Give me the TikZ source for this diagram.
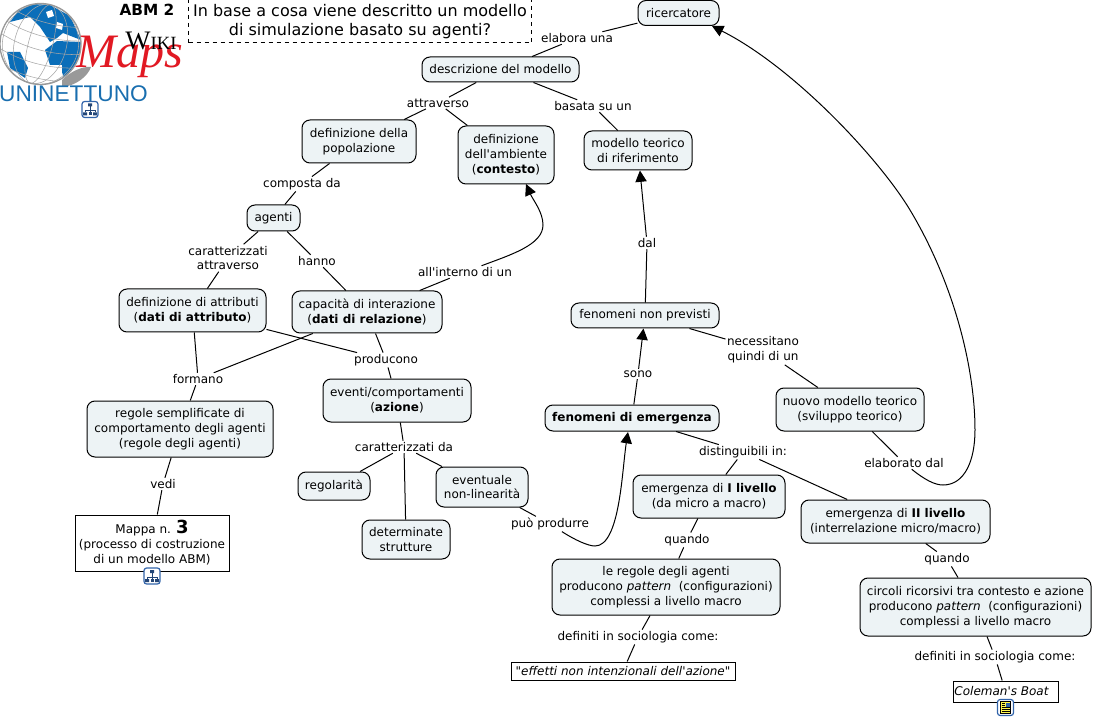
\documentclass[tikz,border=0pt]{standalone}
\usepackage{fontspec}
\setmainfont{DejaVu Sans}[Ligatures=TeXOff]
\newfontfamily\logoserif{Liberation Serif}
\newfontfamily\logosans{Liberation Sans}
\usepackage{tikz}
\usetikzlibrary{arrows.meta, calc}
\definecolor{conceptfill}{RGB}{237, 243, 245}
\definecolor{globeblue}{RGB}{10, 110, 185}
\definecolor{logoblue}{RGB}{25, 110, 175}
\definecolor{mapsred}{RGB}{225, 25, 35}
\definecolor{iconblue}{RGB}{50, 100, 170}

\begin{document}
\begin{tikzpicture}[x=0.75pt, y=-0.75pt,
  every node/.style={font=\fontsize{9}{11.2}\selectfont, align=center, inner sep=0pt},
  size/.style 2 args={minimum width=#1*0.75pt, minimum height=#2*0.75pt},
  concept/.style={draw, fill=conceptfill, rounded corners=6pt, line width=0.75pt},
  resource/.style={draw, fill=white, line width=0.75pt},
  linklabel/.style={fill=white, inner sep=1pt, yshift=-0.75pt},
  link/.style={line width=0.75pt},
  arrowlink/.style={line width=0.75pt, -{Triangle[length=8.5pt, width=8.5pt]}},
  iconbox/.pic={
    \draw[iconblue, fill=white, rounded corners=2pt, line width=0.9pt] (-8,-8) rectangle (8,8);
  },
  treeicon/.pic={
    \pic {iconbox};
    \draw[iconblue!70!black, line width=0.6pt] (0,-3) -- (0,1) (-5,3) -- (-5,1) -- (5,1) -- (5,3) (0,1) -- (0,3);
    \fill[iconblue!70!black] (-2,-6) rectangle (2,-3) (-7,3) rectangle (-3,6) (3,3) rectangle (7,6);
    \fill[iconblue!70!black] (-1.5,3) rectangle (1.5,6);
  },
  noteicon/.pic={
    \pic {iconbox};
    \draw[black, fill=yellow!70, line width=0.5pt] (-5,-6) rectangle (5,6);
    \fill[iconblue] (0,-5) rectangle (4,-1);
    \draw[black, line width=0.5pt] (-4,-4) -- (-1,-4) (-4,-2) -- (-1,-2) (-4,0) -- (4,0) (-4,2) -- (4,2) (-4,4) -- (4,4);
  }]

  \useasboundingbox (0,0) rectangle (1096,720);

  % ---------- Logo ----------
  \fill[black!40] (62,80) .. controls (70,72) and (82,66) .. (91,67)
    .. controls (88,76) and (76,86) .. (62,87) -- cycle;
  \begin{scope}
    \clip (40.5,44) circle (40.5);
    \fill[white] (40.5,44) circle (40.5);
    \fill[globeblue] (10,22) -- (18,11) -- (33,4) -- (50,5) -- (70,16) -- (81,40)
      -- (63,33) -- (57,38) -- (50,42) -- (40,27) -- (30,17) -- cycle;
    \fill[globeblue] (45,50) -- (57,41) -- (81,42) -- (79,60) -- (65,82) -- (62,72)
      -- (62,65) -- (50,65) -- cycle;
    \fill[globeblue] (7,52) -- (20,52) -- (28,68) -- (25,78) -- (10,68) -- cycle;
    \fill[white] (46,12) -- (52,10) -- (54,16) -- (48,18) -- cycle;
    \fill[white] (57,22) -- (63,24) -- (62,30) -- (56,28) -- cycle;
    \foreach \rx in {12, 26, 38}{
      \draw[black!35, line width=0.4pt, rotate around={-15:(40.5,44)}] (40.5,44) ellipse (\rx*0.75pt and 30.4pt);
    }
    \foreach \dy in {-28, -14, 0, 14, 28}{
      \draw[black!35, line width=0.4pt, rotate around={-15:(40.5,44)}] (0,44+\dy) .. controls (25,52+\dy) and (55,52+\dy) .. (81,44+\dy);
    }
  \end{scope}
  \draw[black!40, line width=1pt] (40.5,44) circle (40.5);
  \node[mapsred, font=\logoserif\itshape\fontsize{36}{36}\selectfont] (maps) at (130,57) {Maps};
  \node[font=\logoserif\fontsize{20}{16}\selectfont] (wiki) at (151,41) {W\fontsize{14}{16}\selectfont IKI};
  \node[logoblue, font=\logosans\fontsize{17}{18}\selectfont] (uninettuno) at (73.5,94) {UNINETTUNO};
  \pic at (90,109.5) {treeicon};

  % ---------- Title ----------
  \node[font=\bfseries\fontsize{11.5}{12}\selectfont] (abm) at (147,10) {ABM 2};
  \node[draw, dashed, size={343}{43}, font=\fontsize{12}{14.2}\selectfont, line width=0.75pt] (domanda) at (360,21.5)
    {In base a cosa viene descritto un modello\\di simulazione basato su agenti?};

  % ---------- Concepts ----------
  \node[concept, size={81}{25}] (ricercatore) at (678.5,13) {ricercatore};
  \node[concept, size={157}{25}] (descrizione) at (500.5,69.5) {descrizione del modello};
  \node[concept, size={114}{43}] (popolazione) at (359,141.5) {definizione della\\popolazione};
  \node[concept, size={96}{58}] (contesto) at (506,155) {definizione\\dell'ambiente\\(\textbf{contesto})};
  \node[concept, size={108}{39}] (teorico) at (638,150.5) {modello teorico\\di riferimento};
  \node[concept, size={53}{26}] (agenti) at (273.5,218) {agenti};
  \node[concept, size={147}{43}] (attributi) at (192.5,310.5) {definizione di attributi\\(\textbf{dati di attributo})};
  \node[concept, size={150}{42}] (relazione) at (367,312) {capacità di interazione\\(\textbf{dati di relazione})};
  \node[concept, size={148}{25}] (previsti) at (645,315.5) {fenomeni non previsti};
  \node[concept, size={148}{43}] (eventi) at (397,400.5) {eventi/comportamenti\\(\textbf{azione})};
  \node[concept, size={186}{56}] (regole) at (180,429) {regole semplificate di\\comportamento degli agenti\\(regole degli agenti)};
  \node[concept, size={72}{28}] (regolarita) at (334,486) {regolarità};
  \node[concept, size={88}{39}] (strutture) at (406,539.5) {determinate\\strutture};
  \node[concept, size={92}{40}] (linearita) at (482,487) {eventuale\\non-linearità};
  \node[concept, size={174}{26}, font=\bfseries\fontsize{9}{11.2}\selectfont] (emergenza) at (632,418) {fenomeni di emergenza};
  \node[concept, size={148}{43}] (nuovo) at (850,409.5) {nuovo modello teorico\\(sviluppo teorico)};
  \node[concept, size={152}{43}] (primo) at (709,496.5) {emergenza di \textbf{I livello}\\(da micro a macro)};
  \node[concept, size={189}{43}] (secondo) at (895.5,521.5) {emergenza di \textbf{II livello}\\(interrelazione micro/macro)};
  \node[concept, size={228}{56}] (pattern) at (666,587) {le regole degli agenti\\producono \textit{pattern}\ \ (configurazioni)\\complessi a livello macro};
  \node[concept, size={231}{58}] (circoli) at (975.5,607) {circoli ricorsivi tra contesto e azione\\producono \textit{pattern}\ \ (configurazioni)\\complessi a livello macro};

  % ---------- Resources ----------
  \node[resource, size={154}{56}] (mappa) at (152,543) {Mappa n. {\bfseries\fontsize{13.5}{11.2}\selectfont 3}\\(processo di costruzione\\di un modello ABM)};
  \node[resource, size={224}{18}] (effetti) at (623,671) {\textit{"effetti non intenzionali dell'azione"}};
  \node[resource, size={105}{21}] (coleman) at (1005.5,691.5) {\textit{Coleman's Boat}\ \ };
  \pic at (152,576) {treeicon};
  \pic at (1005.5,707.5) {noteicon};

  % ---------- Link labels ----------
  \node[linklabel] (elabora) at (577,37) {elabora una};
  \node[linklabel] (attraverso) at (438,102) {attraverso};
  \node[linklabel] (basata) at (593,105) {basata su un};
  \node[linklabel] (composta) at (302,183) {composta da};
  \node[linklabel] (caratt) at (228,257) {caratterizzati\\attraverso};
  \node[linklabel] (hanno) at (317,260) {hanno};
  \node[linklabel] (interno) at (465,271) {all'interno di un};
  \node[linklabel] (dal) at (647,242) {dal};
  \node[linklabel] (necessitano) at (763,349) {necessitano\\quindi di un};
  \node[linklabel] (sono) at (638,373) {sono};
  \node[linklabel] (formano) at (198,378) {formano};
  \node[linklabel] (producono) at (386,359) {producono};
  \node[linklabel] (cardati) at (404,446) {caratterizzati da};
  \node[linklabel] (distinguibili) at (743,451) {distinguibili in:};
  \node[linklabel] (elaborato) at (904,462) {elaborato dal};
  \node[linklabel] (vedi) at (163,483) {vedi};
  \node[linklabel] (puo) at (550,523) {può produrre};
  \node[linklabel] (quandoa) at (687,539) {quando};
  \node[linklabel] (quandob) at (947,558) {quando};
  \node[linklabel] (definitia) at (638,636) {definiti in sociologia come:};
  \node[linklabel] (definitib) at (995,656) {definiti in sociologia come:};

  % ---------- Connectors ----------
  \foreach \a/\b in {ricercatore/elabora, elabora/descrizione, descrizione/attraverso,
      attraverso/popolazione, attraverso/contesto, descrizione/basata, basata/teorico,
      popolazione/composta, composta/agenti, agenti/caratt, caratt/attributi,
      agenti/hanno, hanno/relazione, relazione/interno, linearita/puo,
      attributi/formano, relazione/formano, formano/regole, regole/vedi, vedi/mappa,
      attributi/producono, relazione/producono, producono/eventi, eventi/cardati,
      cardati/regolarita, cardati/strutture, cardati/linearita,
      emergenza/distinguibili, distinguibili/primo, distinguibili/secondo,
      primo/quandoa, quandoa/pattern, pattern/definitia, definitia/effetti,
      secondo/quandob, quandob/circoli, circoli/definitib, definitib/coleman,
      previsti/necessitano, necessitano/nuovo, nuovo/elaborato, emergenza/sono, previsti/dal}{
    \draw[link] (\a) -- (\b);
  }
  \draw[arrowlink] (dal) -- (teorico);
  \draw[arrowlink] (sono) -- (previsti);

  % curved links with their arrow tips
  \coordinate (tipcontesto) at (526,184);
  \coordinate (tipemergenza) at (628,432);
  \coordinate (tipricercatore) at (712,26);
  \draw[arrowlink] (interno) .. controls (510,255) and (543,245) .. (543,225)
    .. controls (543,212) and (533,200) .. (tipcontesto);
  \draw[arrowlink] (puo) .. controls (575,540) and (588,546) .. (595,546)
    .. controls (620,546) and (622,470) .. (tipemergenza);
  \draw[arrowlink] (elaborato) .. controls (925,480) and (935,485) .. (943,485)
    .. controls (965,485) and (975,460) .. (975,430)
    .. controls (975,370) and (955,285) .. (910,210)
    .. controls (880,160) and (795,68) .. (tipricercatore);
\end{tikzpicture}
\end{document}
